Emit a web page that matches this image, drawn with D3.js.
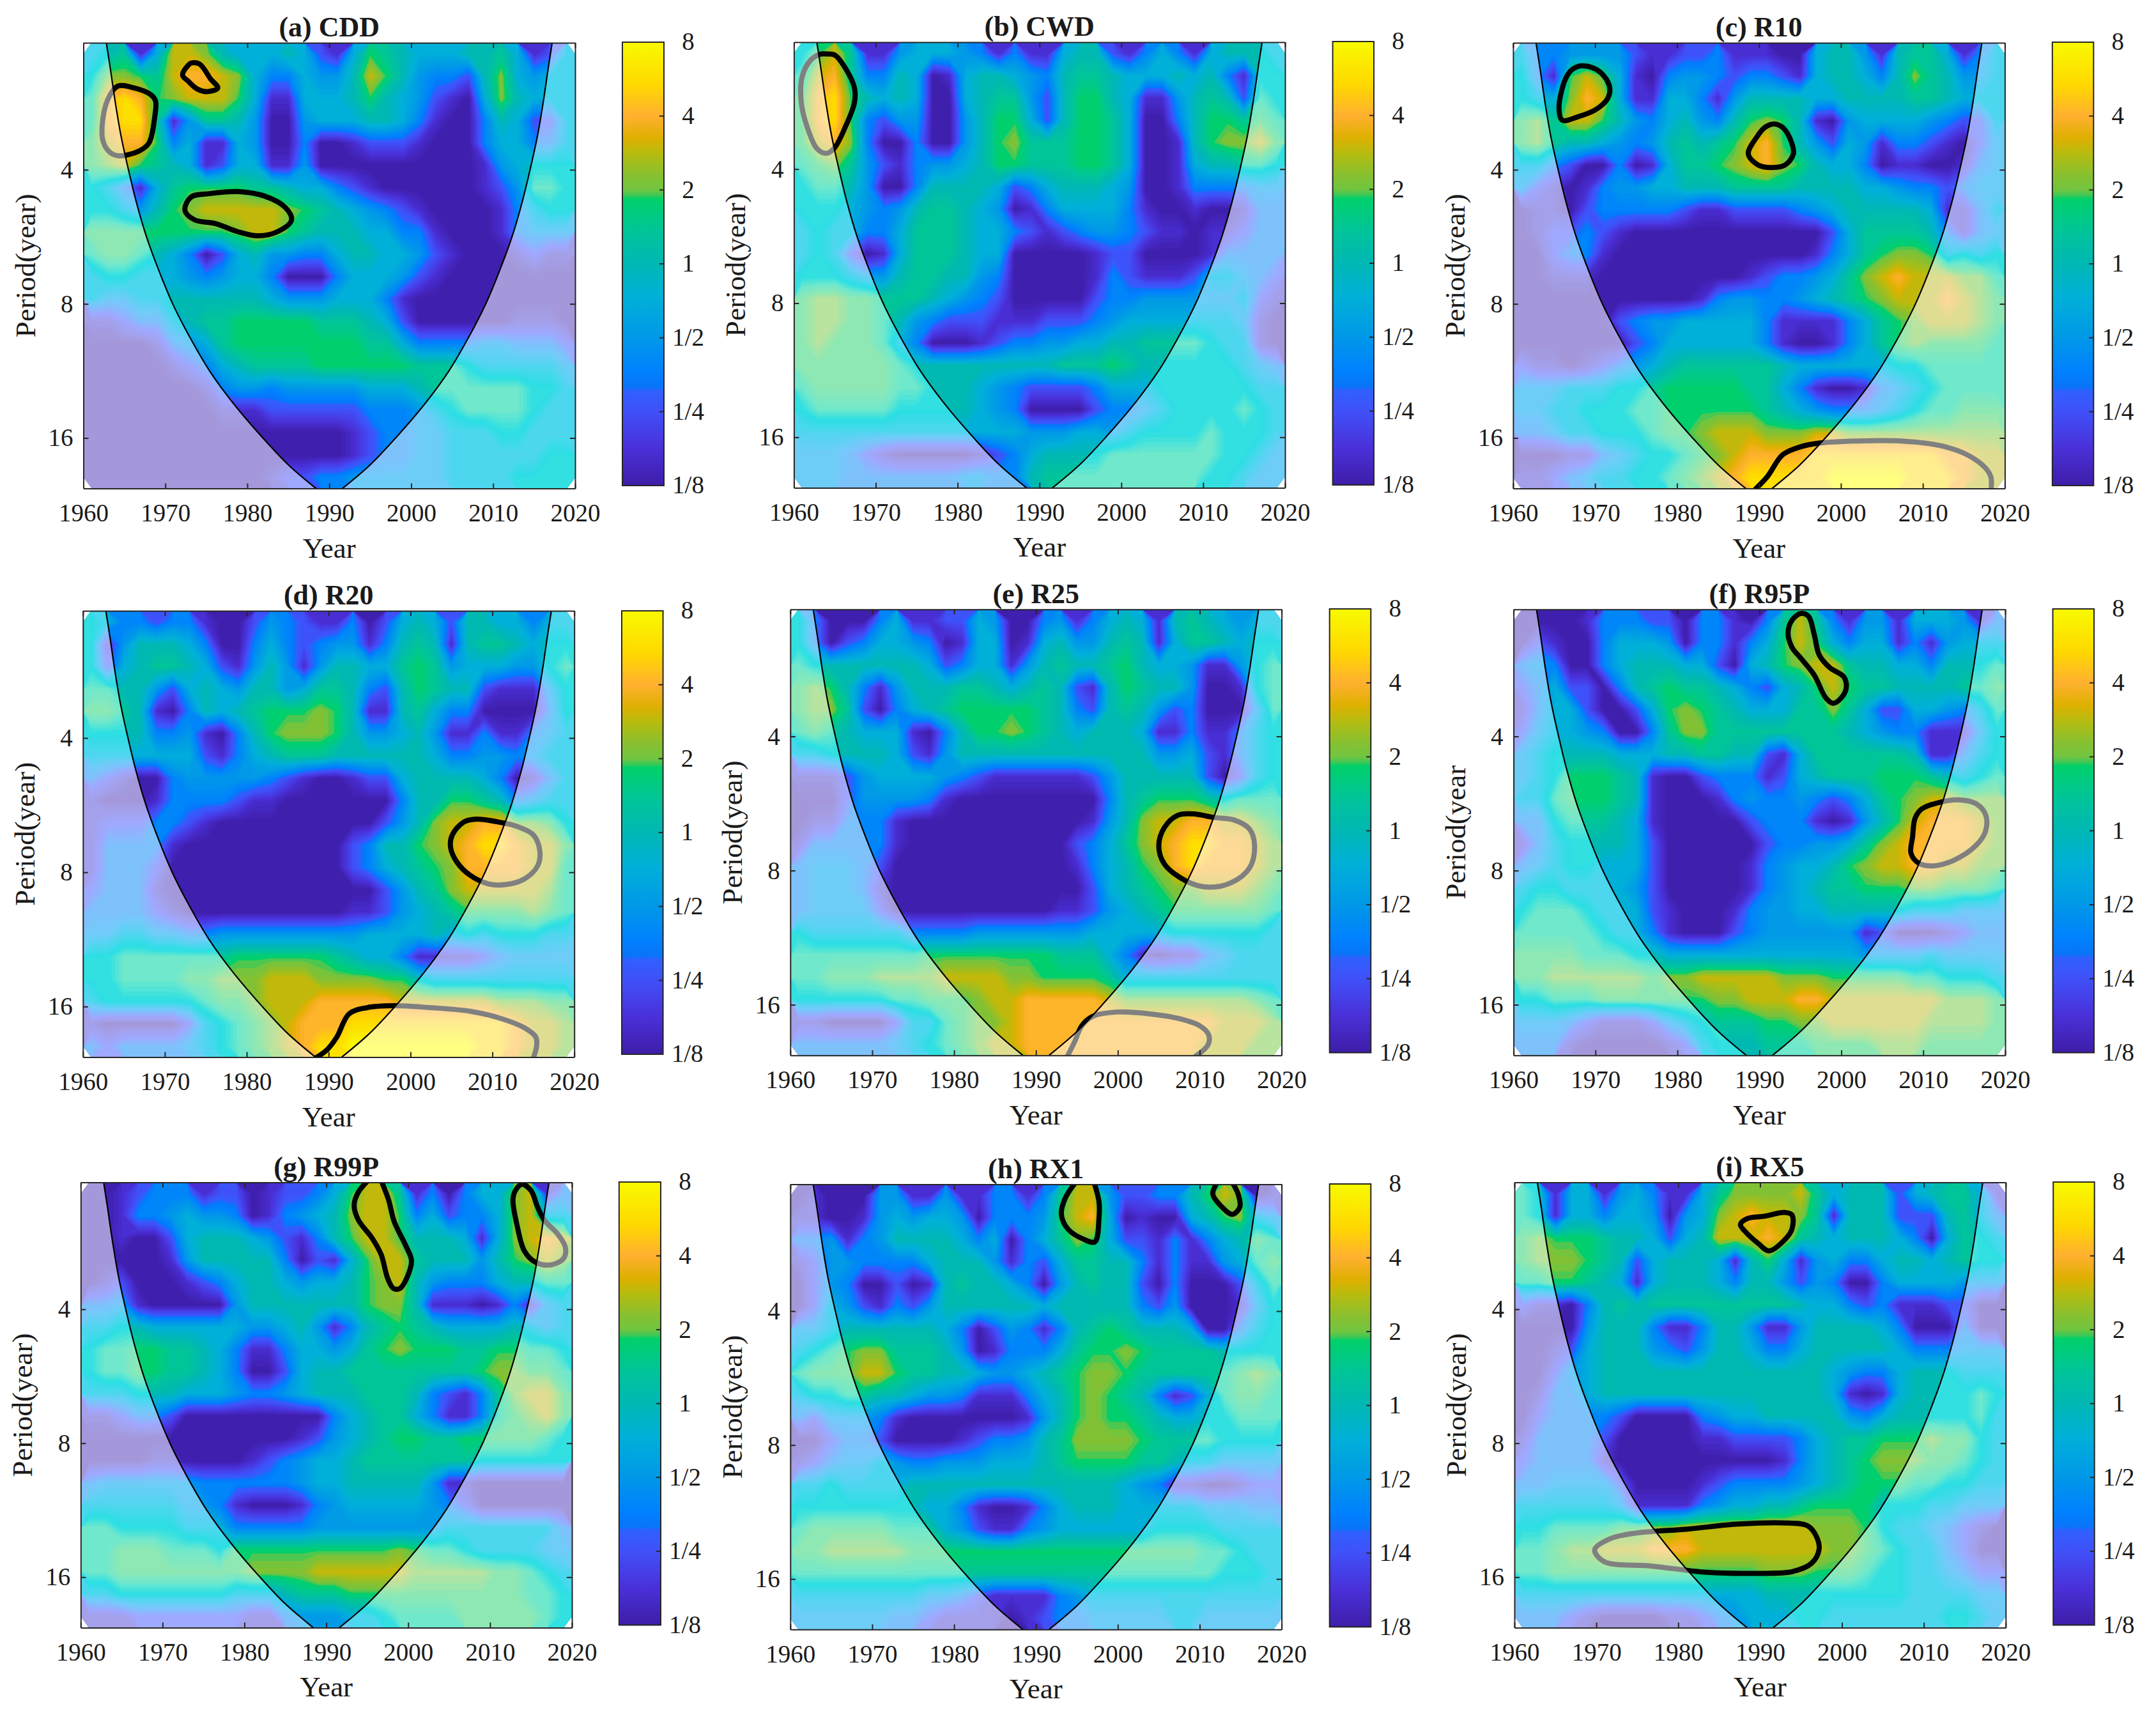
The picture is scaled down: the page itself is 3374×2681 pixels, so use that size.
<!DOCTYPE html>
<html>
<head>
<meta charset="utf-8">
<script src="https://cdn.jsdelivr.net/npm/d3@7"></script>
<style>
  html, body { margin: 0; background: #fff; }
  text { font-family: "Liberation Serif", "Times New Roman", serif; fill: #1a1a1a; }
</style>
</head>
<body>
<div id="chart"></div>
<script>
// log2 of power for each character of the grids below
const powerLevels = [-3, -2.6, -2, -1.4, -1, -0.5, 0, 0.45, 0.85, 1.15, 1.6, 2, 2.5, 3];

const yearTicks = [1960, 1970, 1980, 1990, 2000, 2010, 2020];
const periodTicks = [2, 3, 4];             // log2 of 4, 8, 16
const powerTicks = [3, 2, 1, 0, -1, -2, -3];
const powerTickLabels = ['8', '4', '2', '1', '1/2', '1/4', '1/8'];

// colour bar stops: log2 power and colour
const stopValues = [-3, -2.5, -2, -1.72, -1.67, -1.47, -1, -0.45, 0, 0.43, 0.88, 0.92, 1, 1.2, 1.48, 1.7, 2, 2.42, 3];
const stopColors = ['#3e1da8', '#4a30d8', '#4050f8', '#3060ff', '#0a74f8', '#0080ff', '#0098e8', '#00b0d8', '#00b8b4', '#00c49a', '#00d06a', '#38c858', '#70c540', '#88c030', '#b4bc10', '#deb000', '#ffb030', '#ffd800', '#f8fa00'];
// same ramp as it looks under the cone of influence
const fadedValues = [-3, -2.6, -2, -1.4, -1, -0.5, 0, 0.45, 0.85, 1.15, 1.6, 2, 2.5, 3];
const fadedColors = ['#a496d8', '#a4a0e8', '#a0a8ff', '#80c0fc', '#70ccf8', '#50d6f0', '#2adfe4', '#70e8cc', '#8ee8b4', '#b8e4a0', '#e4dc90', '#ffd898', '#ffec90', '#ffff80'];

// cone of influence: log2 period and distance from the record ends in years
const coiPeriods = [1.053, 1.25, 1.5, 1.75, 2, 2.25, 2.5, 2.75, 3, 3.25, 3.5, 3.75, 4, 4.2, 4.377];
const coiOffsets = [2.8, 3.3, 3.9, 4.6, 5.5, 6.5, 7.7, 9.2, 10.9, 13, 15.4, 18.4, 21.9, 25, 28.4];

const periodDomain = [1.053, 4.377];

const powerCDD = [
  '56715 aa965 55652 15876 55566 75125', '69987 abba9 53354 46a86 43326 95455',
  '7bcb8 9aaa8 51155 56865 42105 96555', '7bcc7 14776 40045 55665 31003 65225',
  '8abb8 35115 40030 01222 10003 55335', '89a87 65125 51140 00000 00001 45666',
  '65315 78888 77655 32100 00001 24776', '66546 89aaa aa987 65432 10000 13566',
  '88888 88889 aa876 66553 31000 13444', '78876 53025 64433 56655 42100 01211',
  '56655 54345 53000 35554 21000 00000', '54455 66666 65444 55531 00000 00000',
  '11233 56778 88887 77652 00000 01110', '00001 34578 88888 88775 33334 43332',
  '00000 12356 77778 88888 77765 55554', '00000 00134 43444 44555 67777 77665',
  '00000 00011 12222 22333 45677 77655', '00000 00000 00000 01233 44555 66555',
  '00000 00000 00000 01233 44555 55566', '00000 00000 01223 34444 44555 56666'];
const powerCWD = [
  '68a71 14555 43131 15662 13531 56665', '7ab73 36501 56654 36776 55565 63166',
  '8bc86 56500 56774 26886 51146 76276', '8bc83 24400 46885 26887 50036 88787',
  '8ab93 00300 46897 77887 50016 899a8', '78974 21344 56887 77887 50015 66776',
  '67764 00366 66523 56665 40013 33344', '66654 34677 65401 35555 31001 00133',
  '56553 35777 65532 12344 32110 11233', '56520 15777 65500 00012 20000 13333',
  '66654 46776 64300 00013 21112 55432', '89988 77765 43200 00023 34444 44521',
  '89988 76432 22111 22234 55555 55410', '89888 75300 01233 44556 67777 65510',
  '88888 87666 66666 67778 76666 66543', '78888 87766 65432 22235 55666 66655',
  '67777 76666 65430 00023 34566 66765', '55555 55555 55554 44554 56666 76665',
  '44432 10000 01235 66667 77777 76654', '44433 33333 44336 77777 77777 66544'];
const powerR10 = [
  '53344 44211 22311 10056 64167 75135', '6318a 85103 44323 32156 65369 76445',
  '6559b a5115 53146 66655 66667 76555', '897aa 86435 64368 98610 45555 43225',
  '89766 54346 7678a b8642 54133 21024', '55320 03015 7789a b9865 53011 00134',
  '42101 34455 66677 77666 65543 32344', '01102 33333 21122 22345 66666 51135',
  '01223 21000 00000 00002 57777 63134', '00233 10000 00000 00013 57899 85656',
  '00111 00000 00001 23345 79aba aa997', '00000 00000 01344 33456 789aa aba98',
  '00000 02344 55555 31111 35789 aaa98', '00000 00235 55555 31001 35789 88887',
  '21101 23456 77777 76555 55566 77777', '44455 56678 88887 75310 01345 67777',
  '44556 66778 88888 76543 33456 77888', '33455 66678 89aaa 999aa 99999 99999',
  '00011 34566 789ab bbbcc ccccc cbbaa', '11234 55667 89abc ccccd ddddc ccbaa'];
const powerR20 = [
  '65332 33100 24321 13025 65266 55355', '61466 65300 35323 44136 76167 76566',
  '62567 76521 46414 66557 87455 54467', '77664 25654 66457 76326 87662 11146',
  '88761 03656 78889 86116 75330 00036', '66663 34103 68999 86445 64113 11345',
  '55555 55213 56777 66666 65334 43455', '32100 34444 43210 01225 66665 30135',
  '10001 33332 11000 00003 66887 63455', '12223 32100 00000 00024 69aab b9986',
  '13333 10000 00000 02366 89abc cbaa8', '13332 00000 00000 02356 789bb bbaa7',
  '23331 00000 00000 00024 679aa aaa97', '33332 10000 00000 01124 56788 88987',
  '44554 43344 44444 44555 56565 66655', '66777 77778 88888 76553 11112 34444',
  '66777 78899 9aaa9 99988 65555 55555', '56666 66788 9aaab bbbba aaaaa 99988',
  '10000 02567 89abb bcccc ccccc cbaa9', '32333 34567 89abc cdddd ddddc cbaa9'];
const powerR25 = [
  '63000 35112 25400 34135 65167 65455', '63023 55430 15501 56446 76157 76566',
  '76666 66652 35514 67667 86554 11467', '89863 14666 77656 76216 87664 00167',
  '89972 03567 88888 76326 76423 00047', '78765 55103 68898 76566 65113 11356',
  '55666 65214 66666 66666 66445 21356', '11124 55554 32111 11124 66666 20256',
  '00024 44431 00000 00003 67888 76777', '01133 31000 00000 00014 69aab baa98',
  '13333 31000 00000 00235 79abc cbba9', '34443 20000 00000 00135 689bc bbba9',
  '34443 10000 00000 00025 67899 aaa98', '34444 20000 00000 01124 56788 88887',
  '65555 55333 34444 44455 55566 66665', '77777 77788 88888 87775 31011 34555',
  '77888 9999a aaa99 88887 55555 55555', '66666 67788 89aab bbbba 99999 99987',
  '11000 02557 899ab bbbbb bbbbb baaa9', '33333 34567 89aab bbbbb bbbbb aaa99'];
const powerR95P = [
  '00001 33322 03310 37a73 14415 55413', '02100 35554 03313 58a85 35513 14555',
  '34300 35666 55205 689aa 76655 36667', '23522 03678 77653 2568a 87766 66778',
  '13552 00258 98765 55779 75225 54357', '24554 30037 99777 77777 65433 11146',
  '45666 65556 67766 21577 77776 11356', '45688 87610 02333 12567 77888 76567',
  '55788 87610 00134 33432 35789 aa999', '33677 76510 00002 33310 1468a bbba9',
  '13566 66520 00000 23344 579ab bbba9', '34566 55520 00001 34556 89aab baa99',
  '56655 55420 00001 34567 78889 98887', '67776 55521 00013 44556 66665 55444',
  '77777 65531 00023 44444 41200 01233', '88887 77665 55555 55555 54444 54444',
  '88999 99989 9aaaa a9998 88887 76665', '66777 88888 8899a aabba aaaaa a9998',
  '44432 11124 56777 8899a aaaaa 99998', '33310 00001 25666 77788 88999 88888'];
const powerR99P = [
  '00123 33122 01223 58aa7 13035 59a13', '00133 45443 01345 69aa8 35233 59a55',
  '00100 25666 54213 68aa8 66651 59aba', '00000 14666 66302 158aa 76664 689a9',
  '01200 01235 66545 5689a 64333 56677', '33410 00004 66666 66899 61110 13145',
  '55665 55555 44564 13678 76555 56545', '67788 77653 11355 45789 88877 88776',
  '67788 77653 00256 67777 77778 99887', '55566 65554 33456 66777 63213 79aa8',
  '11233 20000 00000 35677 53113 789a8', '00000 00000 00012 45678 87788 88876',
  '00001 10000 12345 56777 77776 66666', '34444 44333 33345 56666 64110 00000',
  '55555 54431 00013 45555 54320 00000', '77666 65553 33334 44444 44555 55553',
  '77888 77768 88888 88889 87765 55544', '77888 88888 9999a aaaaa 99999 88765',
  '55666 66665 55677 78888 88888 88776', '11122 22222 11344 45567 77788 88876'];
const powerRX1 = [
  '01000 44114 11331 37aa4 22336 8a901', '11001 45455 40333 48ab5 01005 68954',
  '33413 46666 53503 57985 22131 35687', '12443 33356 66413 25776 63131 14578',
  '02430 02016 76653 04676 62030 00257', '02542 13246 66666 56666 63240 00146',
  '44566 66665 30243 13678 76665 00356', '56789 97776 40133 35788 98777 76666',
  '7888a a8776 65445 67899 87777 77898', '56677 66544 31113 56898 76312 57887',
  '32444 31000 00001 46898 87655 66777', '00233 20000 12334 67999 98777 76666',
  '12344 54334 44555 67888 87765 54444', '55655 55666 66666 66666 54311 00122',
  '66666 66655 31001 35666 55555 44433', '78888 87775 42113 45555 55666 65555',
  '88999 99888 88888 88888 88888 77655', '77777 77777 77777 77777 77777 76665',
  '55555 55544 32111 13455 55555 55555', '44444 43321 11101 23344 44455 44444'];
const powerRX5 = [
  '76155 14531 15799 99a75 66625 67751', '76155 35540 459ab aa971 66622 26753',
  '89888 76652 56aaa ba765 66653 05765', '89998 76256 66516 85145 33566 56766',
  '77887 65156 66536 64243 00355 55444', '21103 67677 77777 77655 32311 12200',
  '00004 66631 13664 11466 66530 00300', '00125 66643 24665 33566 66653 33444',
  '00245 66666 66666 66665 43356 66555', '01335 66666 66666 66665 10156 66676',
  '02333 32000 03455 66666 43566 66675', '13333 20000 01122 22356 77888 98865',
  '23333 10000 00000 01356 78999 88765', '33444 42000 01233 33456 78887 76655',
  '55555 54111 13455 66788 88666 55444', '66777 78899 aaaaa aaa99 98655 43210',
  '77899 aaabb baaaa aaaa9 98765 53200', '77888 88888 88888 99988 87665 54322',
  '55555 55555 55555 66666 66665 55544', '33321 00001 12345 55665 55555 56654'];

// significance contours: [year, log2 period]
const ringsCDD = [
  [[1964.2,1.376],[1966.2,1.39],[1968.2,1.439],[1968.8,1.485],[1968.7,1.608],[1968,1.8],[1966.8,1.86],[1964.3,1.896],[1963.2,1.868],[1962.4,1.786],[1962.3,1.663],[1963,1.472]],
  [[1973.2,1.203],[1974.2,1.212],[1975.5,1.321],[1976.4,1.39],[1975.1,1.417],[1973.9,1.398],[1972.8,1.34],[1972.1,1.294],[1972.8,1.22]],
  [[1973.1,2.205],[1975.5,2.177],[1979.1,2.163],[1982.1,2.196],[1984.6,2.279],[1985.4,2.374],[1983.7,2.461],[1981.3,2.492],[1978.8,2.461],[1976.1,2.401],[1973.6,2.374],[1972.4,2.305]]];
const ringsCWD = [
  [[1963.9,1.141],[1965,1.149],[1966.4,1.258],[1967.4,1.395],[1967.4,1.504],[1966.4,1.669],[1964.9,1.846],[1963.9,1.882],[1962.8,1.846],[1961.6,1.682],[1960.9,1.504],[1961,1.313],[1962,1.19],[1963.2,1.143]]];
const ringsR10 = [
  [[1968.3,1.225],[1969.7,1.239],[1971,1.294],[1971.8,1.39],[1971.5,1.472],[1970,1.554],[1968,1.603],[1966,1.63],[1965.6,1.54],[1966.4,1.321],[1967.2,1.253]],
  [[1991.9,1.658],[1993,1.69],[1994,1.8],[1994.2,1.882],[1993.2,1.964],[1991.6,1.983],[1989.9,1.964],[1988.7,1.882],[1989.7,1.759],[1990.7,1.685]]];
const openR10 = [
  [[1989.5,4.385],[1991,4.29],[1992.9,4.125],[1995.1,4.065],[1997.3,4.038],[2002.8,4.021],[2007.7,4.024],[2012.1,4.057],[2015.4,4.125],[2017.6,4.221],[2018.3,4.29],[2018.3,4.4]]];
const ringsR20 = [
  [[2011.4,2.634],[2008.1,2.604],[2006.5,2.626],[2005.1,2.722],[2004.9,2.818],[2005.7,2.927],[2007.3,3.023],[2009.5,3.086],[2011.7,3.091],[2013.9,3.05],[2015.5,2.955],[2015.8,2.845],[2015,2.722],[2012.8,2.654]]];
const openR20 = [
  [[1988.2,4.391],[1989.8,4.322],[1991,4.227],[1992.5,4.054],[1994.7,4.008],[1998,3.994],[2002.4,4.008],[2007.3,4.035],[2011.1,4.09],[2013.9,4.158],[2015.3,4.227],[2015.4,4.295],[2014.9,4.4]]];
const ringsR25 = [
  [[2011.7,2.604],[2009.2,2.577],[2007.3,2.588],[2005.7,2.678],[2005,2.815],[2005.7,2.952],[2008.4,3.08],[2011.1,3.124],[2013.9,3.089],[2016.1,2.979],[2016.7,2.815],[2016.1,2.692],[2014.2,2.623]]];
const openR25 = [
  [[1993.8,4.388],[1994.7,4.279],[1995.6,4.156],[1996.9,4.087],[1999.9,4.054],[2003.5,4.065],[2007.3,4.1],[2010,4.156],[2011.1,4.224],[2011,4.3],[2009.4,4.388]]];
const ringsR95P = [
  [[1995.1,1.083],[1996,1.105],[1996.7,1.242],[1997.3,1.392],[1998.6,1.488],[2000.3,1.556],[2000.6,1.639],[2000,1.712],[1999,1.753],[1998.1,1.712],[1996.7,1.543],[1995.1,1.42],[1994,1.338],[1993.5,1.228],[1994,1.132]],
  [[2012.3,2.487],[2009.8,2.541],[2009,2.61],[2008.7,2.747],[2008.5,2.87],[2009.4,2.943],[2011.2,2.965],[2013.7,2.924],[2016.4,2.815],[2017.6,2.706],[2017.6,2.582],[2016.4,2.5],[2014.5,2.473]]];
const ringsR99P = [
  [[2013.9,1.067],[2015,1.113],[2015.8,1.236],[2016.6,1.332],[2018.3,1.441],[2019.2,1.537],[2019,1.619],[2017.4,1.669],[2015.5,1.647],[2014.2,1.565],[2013.3,1.373],[2012.8,1.182],[2013.1,1.113]]];
const openR99P = [
  [[1995.1,1.039],[1993.9,1.127],[1993.4,1.223],[1993.9,1.332],[1995.6,1.469],[1996.7,1.592],[1997.5,1.77],[1998.2,1.844],[1999,1.844],[2000,1.742],[2000.4,1.633],[1999.7,1.524],[1998.3,1.346],[1997.6,1.182],[1996.7,1.039]]];
const openRX1 = [
  [[1994.8,1.042],[1993.6,1.154],[1993.1,1.277],[1993.9,1.387],[1995.8,1.463],[1997.2,1.483],[1997.7,1.305],[1997.7,1.182],[1997.1,1.042]],
  [[2012.1,1.042],[2011.6,1.127],[2012.5,1.209],[2014,1.277],[2014.9,1.223],[2014.7,1.127],[2014,1.042]]];
const ringsRX5 = [
  [[1993,1.277],[1993.9,1.296],[1993.9,1.4],[1993,1.482],[1991.1,1.564],[1989.8,1.51],[1988.1,1.414],[1987.6,1.368],[1988.4,1.324],[1990.6,1.305]],
  [[1992.8,3.595],[1995.8,3.617],[1996.9,3.699],[1997.2,3.795],[1996.3,3.896],[1993.9,3.959],[1988.9,3.972],[1983.5,3.964],[1976.9,3.918],[1970.9,3.882],[1969.8,3.795],[1971.7,3.713],[1974.7,3.672],[1981.3,3.64],[1987.3,3.604]]];

const panels = [
  { title: '(a) CDD', ylabel: 'Period(year)', power: powerCDD, rings: ringsCDD, open: [], x: [130.5, 900], y: [67, 764.6], bar: [974, 1039], barY: [66, 760] },
  { title: '(b) CWD', ylabel: 'Period(year)', power: powerCWD, rings: ringsCWD, open: [], x: [1242.4, 2011], y: [66, 763.4], bar: [2085.6, 2150], barY: [65, 759] },
  { title: '(c) R10', ylabel: 'Period(year)', power: powerR10, rings: ringsR10, open: openR10, x: [2367.9, 3137.4], y: [67, 764.6], bar: [3211.8, 3276.3], barY: [66, 760] },
  { title: '(d) R20', ylabel: 'Period(year)', power: powerR20, rings: ringsR20, open: openR20, x: [129.8, 898.7], y: [956, 1654.6], bar: [973, 1037.6], barY: [956, 1650] },
  { title: '(e) R25', ylabel: 'Period(year)', power: powerR25, rings: ringsR25, open: openR25, x: [1236.8, 2005.6], y: [953.7, 1651.7], bar: [2080.7, 2145.3], barY: [953, 1647.5] },
  { title: '(f) R95P', ylabel: 'Period(year', power: powerR95P, rings: ringsR95P, open: [], x: [2368.6, 3138], y: [953.7, 1651.7], bar: [3212.5, 3277], barY: [953, 1647.5] },
  { title: '(g) R99P', ylabel: 'Period(year)', power: powerR99P, rings: ringsR99P, open: openR99P, x: [126.3, 895], y: [1850.6, 2547.4], bar: [968.8, 1034], barY: [1850, 2543.4] },
  { title: '(h) RX1', ylabel: 'Period(year)', power: powerRX1, rings: [], open: openRX1, x: [1236.8, 2005.6], y: [1853.5, 2550.3], bar: [2080.7, 2145.3], barY: [1853, 2546.3] },
  { title: '(i) RX5', ylabel: 'Period(year)', power: powerRX5, rings: ringsRX5, open: [], x: [2370, 3138.8], y: [1850.6, 2547.4], bar: [3213.2, 3277.7], barY: [1850, 2543.4] }
];

const W = 3374, H = 2681;
const tickFont = 39, labelFont = 45, titleFont = 44;

const svg = d3.select('#chart').append('svg')
  .attr('width', W).attr('height', H).attr('viewBox', `0 0 ${W} ${H}`)
  .style('display', 'block');
const defs = svg.append('defs');

const powerColor = d3.scaleLinear().domain(stopValues).range(stopColors).clamp(true);
const fadedColor = d3.scaleLinear().domain(fadedValues).range(fadedColors).clamp(true);
const thresholds = d3.range(-3, 3.001, 0.1);

const barGradient = defs.append('linearGradient').attr('id', 'bar-gradient')
  .attr('x1', 0).attr('x2', 0).attr('y1', 1).attr('y2', 0);
stopValues.forEach((v, i) => {
  barGradient.append('stop').attr('offset', (v + 3) / 6).attr('stop-color', stopColors[i]);
});

function parseGrid(rows) {
  const chars = rows.map(r => r.replace(/ /g, ''));
  const nx = chars[0].length, ny = chars.length;
  const values = [];
  chars.forEach(r => { for (const c of r) values.push(powerLevels[parseInt(c, 16)]); });
  return { nx, ny, values };
}

panels.forEach((p, idx) => {
  const x = d3.scaleLinear().domain([yearTicks[0], yearTicks[6]]).range(p.x);
  const y = d3.scaleLinear().domain(periodDomain).range(p.y);
  const g = svg.append('g');
  const w = p.x[1] - p.x[0], h = p.y[1] - p.y[0];

  // clip areas: the plot box, inside the cone, outside the cone
  const side = d3.line().curve(d3.curveCatmullRom);
  const left = side(coiPeriods.map((v, i) => [x(1960 + coiOffsets[i]), y(v)]));
  const right = side(coiPeriods.map((v, i) => [x(2020 - coiOffsets[i]), y(v)]).reverse());
  const cone = left + 'L' + right.slice(1) + 'Z';
  const boxPath = `M${p.x[0]},${p.y[0]}H${p.x[1]}V${p.y[1]}H${p.x[0]}Z`;
  defs.append('clipPath').attr('id', `box-${idx}`).append('path').attr('d', boxPath);
  defs.append('clipPath').attr('id', `in-${idx}`).append('path').attr('d', cone);
  defs.append('clipPath').attr('id', `out-${idx}`).append('path')
    .attr('d', boxPath + cone).attr('clip-rule', 'evenodd');

  const grid = parseGrid(p.power);
  const bands = d3.contours().size([grid.nx, grid.ny]).smooth(true).thresholds(thresholds)(grid.values);
  const project = d3.geoTransform({
    point(cx, cy) {
      this.stream.point(
        x(1960 + cx * 60 / grid.nx),
        y(periodDomain[0] + cy * (periodDomain[1] - periodDomain[0]) / grid.ny));
    }
  });
  const path = d3.geoPath(project);

  const boxed = g.append('g').attr('clip-path', `url(#box-${idx})`);
  [['in', powerColor], ['out', fadedColor]].forEach(([name, scale]) => {
    boxed.append('g').attr('clip-path', `url(#${name}-${idx})`)
      .selectAll('path').data(bands).join('path')
      .attr('d', path)
      .attr('fill', d => scale(d.value + 0.05));
  });

  const ringLine = d3.line().x(d => x(d[0])).y(d => y(d[1])).curve(d3.curveCatmullRomClosed);
  const openLine = d3.line().x(d => x(d[0])).y(d => y(d[1])).curve(d3.curveCatmullRom);
  [['in', '#000'], ['out', '#808080']].forEach(([name, colour]) => {
    const lines = boxed.append('g').attr('clip-path', `url(#${name}-${idx})`)
      .attr('fill', 'none').attr('stroke', colour).attr('stroke-width', 8)
      .attr('stroke-linejoin', 'round');
    lines.selectAll('.ring').data(p.rings).join('path').attr('class', 'ring').attr('d', ringLine);
    lines.selectAll('.open').data(p.open).join('path').attr('class', 'open').attr('d', openLine);
  });

  boxed.append('path').attr('d', left).attr('fill', 'none').attr('stroke', '#000').attr('stroke-width', 2.2);
  boxed.append('path').attr('d', right).attr('fill', 'none').attr('stroke', '#000').attr('stroke-width', 2.2);

  // axes, with the ticks mirrored on the far sides like a boxed plot
  const axisStyle = sel => {
    sel.select('.domain').attr('stroke', '#262626').attr('stroke-width', 2);
    sel.selectAll('.tick line').attr('stroke', '#262626').attr('stroke-width', 2);
    sel.selectAll('.tick text').attr('font-size', tickFont).attr('fill', '#1a1a1a')
      .attr('font-family', '"Liberation Serif", serif');
    sel.attr('font-family', null).attr('font-size', null);
  };
  const tickLen = 8;
  g.append('g').attr('transform', `translate(0,${p.y[1]})`)
    .call(d3.axisBottom(x).tickValues(yearTicks).tickFormat(d3.format('d')).tickSize(-tickLen).tickSizeOuter(0).tickPadding(24))
    .call(axisStyle);
  g.append('g').attr('transform', `translate(0,${p.y[0]})`)
    .call(d3.axisTop(x).tickValues(yearTicks).tickFormat('').tickSize(-tickLen).tickSizeOuter(0))
    .call(axisStyle);
  g.append('g').attr('transform', `translate(${p.x[0]},0)`)
    .call(d3.axisLeft(y).tickValues(periodTicks).tickFormat(d => 2 ** d * 1).tickSize(-tickLen).tickSizeOuter(0).tickPadding(16))
    .call(axisStyle);
  g.append('g').attr('transform', `translate(${p.x[1]},0)`)
    .call(d3.axisRight(y).tickValues(periodTicks).tickFormat('').tickSize(-tickLen).tickSizeOuter(0))
    .call(axisStyle);

  g.append('text').attr('x', p.x[0] + w / 2).attr('y', p.y[0] - 10)
    .attr('text-anchor', 'middle').attr('font-size', titleFont).attr('font-weight', 'bold')
    .attr('fill', '#000').text(p.title);
  g.append('text').attr('x', p.x[0] + w / 2).attr('y', p.y[1] + 108)
    .attr('text-anchor', 'middle').attr('font-size', labelFont).text('Year');
  g.append('text')
    .attr('transform', `translate(${p.x[0] - 76},${p.y[0] + h / 2}) rotate(-90)`)
    .attr('text-anchor', 'middle').attr('font-size', labelFont).text(p.ylabel);

  // colour bar
  const barScale = d3.scaleLinear().domain([-3, 3]).range([p.barY[1], p.barY[0]]);
  const bar = g.append('g');
  bar.append('rect').attr('x', p.bar[0]).attr('y', p.barY[0])
    .attr('width', p.bar[1] - p.bar[0]).attr('height', p.barY[1] - p.barY[0])
    .attr('fill', 'url(#bar-gradient)').attr('stroke', '#262626').attr('stroke-width', 2);
  bar.selectAll('line').data(powerTicks.slice(1, -1)).join('line')
    .attr('x1', p.bar[1] - 7).attr('x2', p.bar[1])
    .attr('y1', d => barScale(d)).attr('y2', d => barScale(d))
    .attr('stroke', '#262626').attr('stroke-width', 2);
  bar.selectAll('text').data(powerTicks).join('text')
    .attr('x', p.bar[1] + 38).attr('y', d => barScale(d)).attr('dy', '0.32em')
    .attr('text-anchor', 'middle').attr('font-size', tickFont)
    .text((d, i) => powerTickLabels[i]);
});
</script>
</body>
</html>
